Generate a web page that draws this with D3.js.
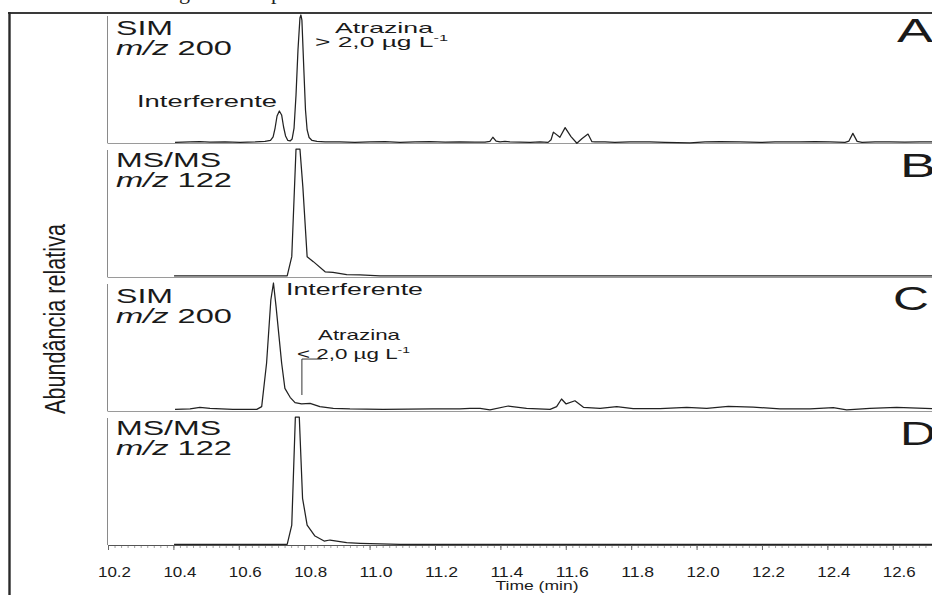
<!DOCTYPE html>
<html><head><meta charset="utf-8">
<script src="https://cdn.jsdelivr.net/npm/d3@7"></script>
<style>body{margin:0;background:#fff}svg{display:block}</style>
</head><body>
<svg id="c" width="932" height="595"></svg>
<script>
// ---- data ----
const majorTicks = [10.2,10.4,10.6,10.8,11.0,11.2,11.4,11.6,11.8,12.0,12.2,12.4,12.6];
const tickLabels = ["10.2","10.4","10.6","10.8","11.0","11.2","11.4","11.6","11.8","12.0","12.2","12.4","12.6"];
const panelLetters = ["A","B","C","D"];
const modeLabels = ["SIM","MS/MS","SIM","MS/MS"];
const mzValues = ["200","122","200","122"];
const xTitle = "Time (min)";
const yTitle = "Abundância relativa";

const aTime = [10.405,10.451,10.481,10.512,10.558,10.604,10.650,10.680,10.697,10.705,10.711,10.717,10.724,10.731,10.737,10.743,10.750,10.757,10.763,10.769,10.775,10.781,10.787,10.790,10.793,10.799,10.804,10.809,10.815,10.824,10.839,10.864,10.909,10.955,11.001,11.047,11.093,11.139,11.185,11.231,11.276,11.322,11.353,11.368,11.377,11.387,11.399,11.414,11.429,11.460,11.491,11.521,11.546,11.555,11.562,11.582,11.598,11.616,11.634,11.650,11.668,11.680,11.689,11.720,11.750,11.796,11.857,11.903,11.980,12.026,12.072,12.133,12.194,12.240,12.316,12.362,12.408,12.454,12.466,12.478,12.491,12.506,12.546,12.591,12.637,12.683,12.720];
const aInt  = [0.5,0.8,1.1,0.6,0.9,0.5,0.8,1.2,2.0,4.7,11.7,21.1,25.0,21.9,12.5,5.5,2.0,1.6,3.1,11.7,37.5,72.7,97.7,100,96,57,25.8,10.2,4.3,2.0,1.2,0.8,0.9,0.5,0.8,1.0,0.5,0.8,1.1,0.6,0.8,0.7,0.6,1.2,4.5,1.5,0.8,1.2,0.9,0.6,0.4,0.8,0.5,2.5,8.5,4.5,12.0,5.0,-0.2,3.5,7.0,1.0,0.8,0.9,0.5,0.9,0.8,0.4,0.1,0.8,1.0,0.8,0.5,0.8,0.8,1.0,0.9,0.5,1.5,7.5,1.3,0.5,0.8,0.9,0.6,0.9,0.8];

const bTime = [10.402,10.748,10.762,10.775,10.787,10.796,10.809,10.828,10.864,10.888,10.930,10.971,11.032,12.720];
const bInt  = [0.8,0.8,15.9,100,100,70,15.9,12,4.1,3.7,1.8,1.6,0.8,0.8];

const cTime = [10.405,10.451,10.481,10.512,10.582,10.655,10.670,10.685,10.698,10.706,10.714,10.731,10.741,10.757,10.772,10.792,10.818,10.848,10.889,10.940,11.041,11.194,11.276,11.307,11.338,11.368,11.424,11.480,11.552,11.572,11.587,11.601,11.628,11.654,11.705,11.756,11.806,11.888,11.970,12.031,12.097,12.173,12.255,12.347,12.418,12.459,12.530,12.612,12.720];
const cInt  = [1.3,1.6,2.9,2.1,1.3,1.3,3.4,37.5,86.7,100,81.5,37.5,17.7,10.7,6.5,5.5,6.0,3.4,2.1,1.6,1.3,1.6,1.6,2.1,2.1,0.8,3.9,2.1,1.3,3.4,9.4,5.5,8.0,2.9,2.1,3.4,1.8,1.8,2.9,2.1,3.7,3.1,1.6,1.6,2.6,0.8,2.1,2.9,1.8];

const dTime = [10.402,10.748,10.762,10.773,10.785,10.795,10.809,10.833,10.861,10.879,10.930,10.971,11.032,11.093,12.720];
const dInt  = [0.5,0.5,15.6,100,100,36.5,15.6,7.0,3.1,3.9,1.8,1.3,0.8,0.5,0.5];

// bracket marking atrazine in panel C (time, intensity)
const bracketC = [[10.854,40.6],[10.793,40.6],[10.793,12.5]];

// ---- drawing ----
const svg = d3.select("#c");
const FONT = "'Liberation Sans', Arial, sans-serif";
const x = d3.scaleLinear().domain([10.2, 12.72]).range([108, 932]);

function txt(g, px, py, size, len, opts={}) {
  const t = g.append("text").attr("x", px).attr("y", py)
    .attr("font-family", FONT).attr("font-size", size).attr("fill", opts.fill || "#1a1a1a");
  if (opts.anchor) t.attr("text-anchor", opts.anchor);
  if (len) t.attr("textLength", len).attr("lengthAdjust", "spacingAndGlyphs");
  return t;
}

// cropped caption remnants at top
svg.append("text").attr("x",179).attr("y",-1).attr("font-family","'Liberation Serif',serif").attr("font-size",22).attr("fill","#222").text("g");
svg.append("text").attr("x",271).attr("y",-1).attr("font-family","'Liberation Serif',serif").attr("font-size",22).attr("fill","#222").text("p");

// outer frame
svg.append("line").attr("x1",8).attr("x2",932).attr("y1",13).attr("y2",13).attr("stroke","#3a3a3a").attr("stroke-width",2.2);
svg.append("line").attr("x1",9.5).attr("x2",9.5).attr("y1",12).attr("y2",595).attr("stroke","#2a2a2a").attr("stroke-width",2.4);

// y title
svg.append("text").attr("transform","translate(65,319) rotate(-90)")
  .attr("text-anchor","middle").attr("font-family",FONT).attr("font-size",30)
  .attr("fill","#1a1a1a").attr("textLength",190).attr("lengthAdjust","spacingAndGlyphs").text(yTitle);

const tops = [15,149,283,417];
const H = 128;
const series = [[aTime,aInt],[bTime,bInt],[cTime,cInt],[dTime,dInt]];

tops.forEach((top, i) => {
  const bottom = top + H;
  const y = d3.scaleLinear().domain([0,100]).range([bottom, top]);
  const g = svg.append("g");
  g.append("line").attr("x1",107.5).attr("x2",107.5).attr("y1",top+1).attr("y2",bottom)
    .attr("stroke","#8a8a8a").attr("stroke-width",1);
  if (i < 3) {
    g.append("line").attr("x1",107.5).attr("x2",932).attr("y1",bottom+0.5).attr("y2",bottom+0.5)
      .attr("stroke","#9a9a9a").attr("stroke-width",1);
  }
  const [tt, vv] = series[i];
  const pts = tt.map((t,k)=>[t, vv[k]]);
  g.append("path").datum(pts)
    .attr("d", d3.line().x(d=>x(d[0])).y(d=>y(d[1])))
    .attr("fill","none").attr("stroke","#222").attr("stroke-width",1.25).attr("stroke-linejoin","round");
  const isSim = modeLabels[i] === "SIM";
  txt(g, 116, top + (i%2===0 ? 20 : 18), 19.5, isSim ? 57 : 105).text(modeLabels[i]);
  const mz = txt(g, 116, top + (i%2===0 ? 39.5 : 37.5), 19.5, 116);
  mz.append("tspan").attr("font-style","italic").text("m/z");
  mz.append("tspan").text(" " + mzValues[i]);
  txt(g, [897,900,893,900][i], top + [27,28,27,28][i], 33, 36).text(panelLetters[i]);
  if (i === 3) {
    const minor = d3.range(0, 127).map(k => 10.2 + k*0.02).filter(v => v <= 12.72);
    const axMinor = d3.axisBottom(x).tickValues(minor).tickSize(3).tickFormat("");
    const gm = g.append("g").attr("transform",`translate(0,${bottom})`).call(axMinor);
    gm.select(".domain").remove();
    gm.selectAll(".tick line").attr("stroke","#8a8a8a").attr("stroke-width",0.8);
    const axMajor = d3.axisBottom(x).tickValues(majorTicks).tickSize(5)
      .tickFormat((d,k)=>tickLabels[k]);
    const ga = g.append("g").attr("transform",`translate(0,${bottom})`).call(axMajor);
    ga.select(".domain").attr("d",`M108,0.5H932`).attr("stroke","#555").attr("stroke-width",1.2);
    ga.selectAll(".tick line").attr("stroke","#666");
    ga.selectAll(".tick text").attr("x",6).attr("y",32).attr("dy",0)
      .attr("font-family",FONT).attr("font-size",14.5).attr("fill","#1a1a1a")
      .attr("textLength",33).attr("lengthAdjust","spacingAndGlyphs");
    txt(svg, 537, bottom + 45, 13.5, 83, {anchor:"middle"}).text(xTitle);
  }
});

// annotations panel A
const gA = svg.append("g");
txt(gA, 335, 33, 14.5, 98).text("Atrazina");
const a2 = txt(gA, 315, 46.5, 14.5, 133);
a2.append("tspan").text("> 2,0 µg L");
a2.append("tspan").attr("font-size",9).attr("dy",-6).text("-1");
txt(gA, 137, 107, 16.5, 140).text("Interferente");

// annotations panel C
const yC = d3.scaleLinear().domain([0,100]).range([411, 283]);
txt(gA, 286, 295, 16.5, 137).text("Interferente");
txt(gA, 318, 340, 14.5, 82).text("Atrazina");
const c2 = txt(gA, 297, 359, 14.5, 113);
c2.append("tspan").text("< 2,0 µg L");
c2.append("tspan").attr("font-size",9).attr("dy",-6).text("-1");
svg.append("path").datum(bracketC)
  .attr("d", d3.line().x(d=>x(d[0])).y(d=>yC(d[1])))
  .attr("fill","none").attr("stroke","#333").attr("stroke-width",1);
</script>
</body></html>
